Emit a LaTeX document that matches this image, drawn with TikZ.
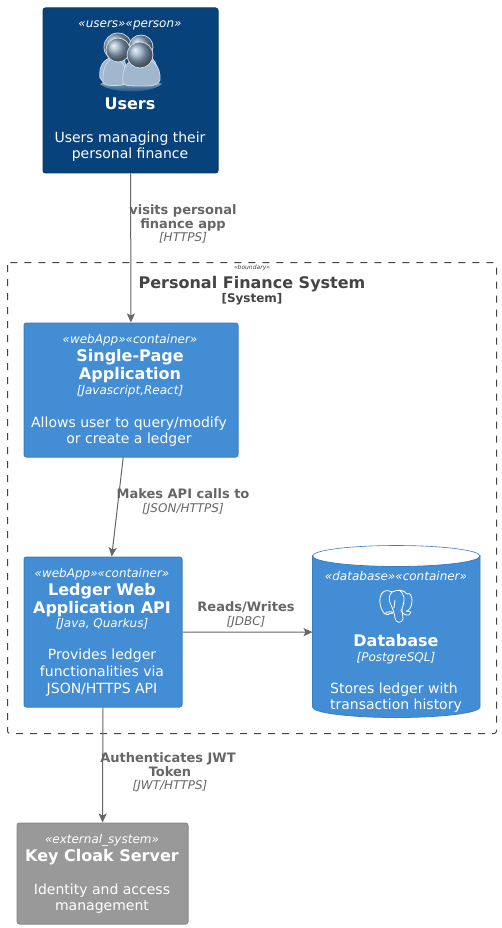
\documentclass[tikz,border=0pt]{standalone}
\usepackage{fontspec}
\setmainfont{DejaVu Sans}
\usetikzlibrary{arrows.meta,shadings,fadings}
\definecolor{persblue}{HTML}{08427B}
\definecolor{persedge}{HTML}{073B6F}
\definecolor{contblue}{HTML}{438DD5}
\definecolor{contedge}{HTML}{3C7FC0}
\definecolor{extgray}{HTML}{999999}
\definecolor{extedge}{HTML}{8A8A8A}
\definecolor{linkgray}{HTML}{666666}
\definecolor{bndtext}{HTML}{444444}
\tikzset{
  box/.style={draw,line width=1pt,rounded corners=2.5pt,inner sep=0pt,anchor=north west},
  persbox/.style={box,fill=persblue,draw=persedge},
  contbox/.style={box,fill=contblue,draw=contedge},
  extbox/.style={box,fill=extgray,draw=extedge},
  txt/.style={anchor=base,inner sep=0pt,text=white},
  ster/.style={txt,font=\fontsize{12}{14}\selectfont\itshape},
  titl/.style={txt,font=\fontsize{16}{18}\selectfont\bfseries},
  tech/.style={txt,font=\fontsize{12}{14}\selectfont\itshape},
  desc/.style={txt,font=\fontsize{14}{16}\selectfont},
  linkb/.style={anchor=base,inner sep=0pt,text=linkgray,font=\fontsize{13}{15}\selectfont\bfseries},
  linki/.style={anchor=base,inner sep=0pt,text=linkgray,font=\fontsize{12}{14}\selectfont\itshape},
  conn/.style={draw=linkgray,line width=1pt,-{Stealth[length=9pt,width=8pt,inset=2pt]}},
  head/.style={draw=white!80!persblue,line width=.8pt,ball color=persblue!45!white},
  bust/.style={draw=white!80!persblue,line width=.8pt,fill=white!62!persblue},
  eleph/.style={draw=white,line width=.8pt,line join=round,line cap=round}
}
\begin{document}
\begin{tikzpicture}[x=1pt,y=-1pt]
\useasboundingbox (0,0) rectangle (501,928);
\fill[white] (0,0) rectangle (501,928);
% boundary
\draw[bndtext,line width=1pt,dash pattern=on 7pt off 7pt,rounded corners=2.5pt] (7.5,262.5) rectangle (496.5,733.5);
\node[anchor=base,inner sep=0pt,text=bndtext,font=\fontsize{6}{7}\selectfont\itshape] (bs) at (252,269) {«boundary»};
\node[anchor=base,inner sep=0pt,text=bndtext,font=\fontsize{16}{18}\selectfont\bfseries] (bt) at (252,288) {Personal Finance System};
\node[anchor=base,inner sep=0pt,text=bndtext,font=\fontsize{12}{14}\selectfont\bfseries] (bk) at (252,302) {[System]};
% boxes
\node[persbox,minimum width=175pt,minimum height=165pt] (usr) at (42.5,7.5) {};
\node[contbox,minimum width=214pt,minimum height=134pt] (spa) at (23.5,322.5) {};
\node[contbox,minimum width=158pt,minimum height=150pt] (api) at (23.5,556.5) {};
\node[extbox,minimum width=171pt,minimum height=101pt] (kc) at (16.5,822.5) {};
% database cylinder
\node[inner sep=0pt,minimum width=168pt,minimum height=173pt,anchor=north west] (db) at (312.5,545.5) {};
\draw[contedge,fill=contblue,line width=.8pt]
  (312.5,556) arc[start angle=180,end angle=0,x radius=83.75,y radius=10.5]
  -- (480,707) arc[start angle=0,end angle=180,x radius=83.75,y radius=10.5] -- cycle;
\draw[contedge,line width=.6pt] (312.5,556) arc[start angle=180,end angle=360,x radius=83.75,y radius=10.5];
% users icon
\begin{scope}
  \shade[bottom color=persblue,top color=white!75!persblue,opacity=.9] (100,84) .. controls (112,78) and (148,78) .. (162,84) .. controls (150,94) and (112,94) .. (100,84) -- cycle;
  \draw[bust] (100,78) .. controls (98,62) and (108,56) .. (120,56) .. controls (128,56) and (128,84) .. (120,84) .. controls (112,84) and (102,84) .. (100,78) -- cycle;
  \draw[bust] (132,54) .. controls (146,52) and (156,56) .. (158,72) -- (150,78) -- (135,70) -- cycle;
  \draw[head] (118,47) circle[radius=14];
  \draw[head] (141,47) circle[radius=12];
  \draw[bust] (103,83) .. controls (102,66) and (108,58) .. (117,57) .. controls (122,62) and (125,66) .. (127,72) .. controls (130,66) and (133,64) .. (136,62) .. controls (132,70) and (130,82) .. (122,85) .. controls (115,86) and (106,86) .. (103,83) -- cycle;
  \draw[bust] (123,83) .. controls (121,66) and (130,58) .. (141,58) .. controls (152,58) and (161,66) .. (160,80) .. controls (159,86) and (149,86) .. (141,86) .. controls (133,86) and (124,86) .. (123,83) -- cycle;
  \draw[head] (118,50) circle[radius=12];
  \draw[head] (140,55) circle[radius=13];
\end{scope}
% postgres elephant
\begin{scope}
  \draw[eleph] (392,592) .. controls (382,587) and (379,597) .. (380,603) .. controls (381,611) and (386,618) .. (390,613);
  \draw[eleph] (392,592) .. controls (398,589) and (404,590) .. (407,594) .. controls (410,592) and (412,596) .. (412,601) .. controls (412,607) and (408,612) .. (406,611) -- (411,612) -- (409,615) .. controls (406,616) and (402,613) .. (401,611) -- (404,603);
  \draw[eleph] (392,592) .. controls (389,595) and (388,600) .. (391,605) .. controls (393,609) and (394,612) .. (395,618) .. controls (395,623) and (402,624) .. (403,619) -- (402,609);
  \draw[eleph] (399,590) .. controls (405,594) and (405,601) .. (403,604);
  \draw[eleph] (384,614) .. controls (388,611) and (392,611) .. (393,613) -- (388,614);
  \draw[eleph] (395,600) -- (394,608);
\end{scope}
% users text
\node[ster] (us) at (130,28) {«users»«person»};
\node[titl] (ut) at (130,110) {Users};
\node[desc] (ud1) at (130,143) {Users managing their};
\node[desc] (ud2) at (130,159) {personal finance};
% spa text
\node[ster] (ss) at (130,343) {«webApp»«container»};
\node[titl] (st1) at (130,361) {Single-Page};
\node[titl] (st2) at (130,379) {Application};
\node[tech] (st3) at (130,394) {[Javascript,React]};
\node[desc] (sd1) at (129,427) {Allows user to query/modify};
\node[desc] (sd2) at (129,443) {or create a ledger};
% api text
\node[ster] (as) at (102,577) {«webApp»«container»};
\node[titl] (at1) at (102,595) {Ledger Web};
\node[titl] (at2) at (102,613) {Application API};
\node[tech] (at3) at (102,627) {[Java, Quarkus]};
\node[desc] (ad1) at (102,659) {Provides ledger};
\node[desc] (ad2) at (102,676) {functionalities via};
\node[desc] (ad3) at (102,693) {JSON/HTTPS API};
% db text
\node[ster] (ds) at (396,580) {«database»«container»};
\node[titl] (dt) at (396,646) {Database};
\node[tech] (dk) at (396,661) {[PostgreSQL]};
\node[desc] (dd1) at (394,693) {Stores ledger with};
\node[desc] (dd2) at (396,709) {transaction history};
% keycloak text
\node[ster] (ks) at (102,843) {«external\_system»};
\node[titl] (kt) at (102,861) {Key Cloak Server};
\node[desc] (kd1) at (102,894) {Identity and access};
\node[desc] (kd2) at (102,910) {management};
% connectors
\draw[conn] (usr) -- (spa);
\draw[conn] (spa) -- (api);
\draw[conn] (api) -- (db);
\draw[conn] (api) -- (kc);
% link labels
\node[linkb] (l1a) at (183,214) {visits personal};
\node[linkb] (l1b) at (183,228) {finance app};
\node[linki] (l1c) at (183,241) {[HTTPS]};
\node[linkb] (l2a) at (183,498) {Makes API calls to};
\node[linki] (l2b) at (183,512) {[JSON/HTTPS]};
\node[linkb] (l3a) at (246,611) {Reads/Writes};
\node[linki] (l3b) at (246,625) {[JDBC]};
\node[linkb] (l4a) at (168,762) {Authenticates JWT};
\node[linkb] (l4b) at (170,776) {Token};
\node[linki] (l4c) at (170,789) {[JWT/HTTPS]};
\end{tikzpicture}
\end{document}
